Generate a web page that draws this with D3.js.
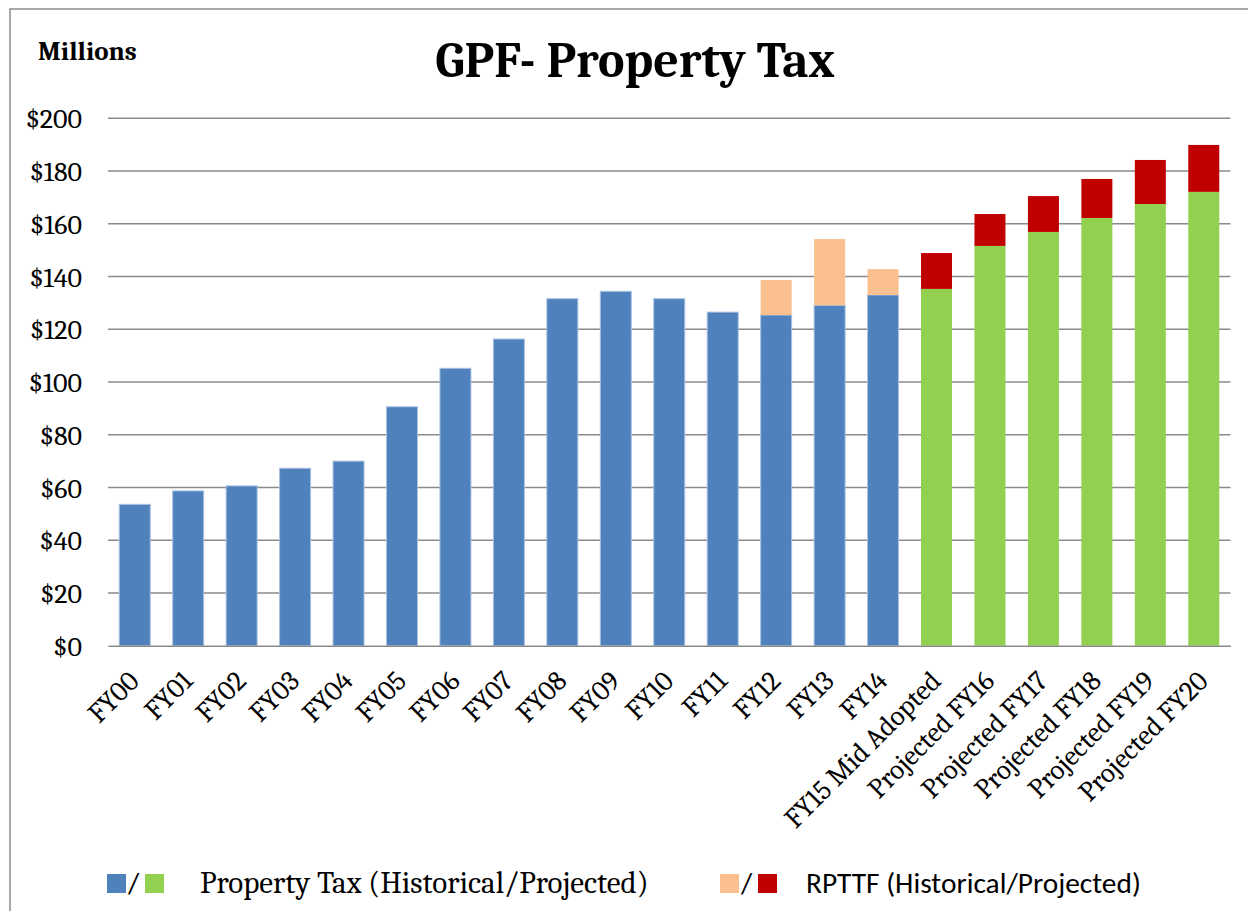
<!DOCTYPE html>
<html>
<head>
<meta charset="utf-8">
<script src="https://cdn.jsdelivr.net/npm/d3@7"></script>
<style>
  html, body { margin: 0; padding: 0; background: #fff; }
</style>
</head>
<body>
<div id="chart"></div>
<script>
// chart data (millions of dollars)
const categories = ["FY00", "FY01", "FY02", "FY03", "FY04", "FY05", "FY06", "FY07", "FY08", "FY09",
  "FY10", "FY11", "FY12", "FY13", "FY14", "FY15 Mid Adopted", "Projected FY16", "Projected FY17",
  "Projected FY18", "Projected FY19", "Projected FY20"];
const propertyTax = [53.6, 58.7, 60.6, 67.3, 70.0, 90.6, 105.2, 116.3, 131.6, 134.4,
  131.6, 126.5, 125.4, 129.1, 133.0, 135.3, 151.6, 156.9, 162.2, 167.5, 172.1];
const rpttf = [0, 0, 0, 0, 0, 0, 0, 0, 0, 0,
  0, 0, 13.3, 25.1, 9.8, 13.6, 12.1, 13.6, 14.8, 16.7, 17.8];
const projectedFrom = "FY15 Mid Adopted";
const yTicks = [0, 20, 40, 60, 80, 100, 120, 140, 160, 180, 200];

const W = 1248, H = 911;
const colors = {
  tax: { hist: "#4f81bd", proj: "#92d050" },
  rpttf: { hist: "#fac090", proj: "#c00000" }
};
const serif = "Cambria, Caladea, 'Liberation Serif', serif";
const sans = "Calibri, Carlito, Lato, 'Liberation Sans', sans-serif";

const svg = d3.select("#chart").append("svg")
  .attr("width", W)
  .attr("height", H)
  .style("display", "block");

// outer frame (left + top edges visible)
svg.append("path")
  .attr("d", `M10,${H} L10,9 L${W},9`)
  .attr("fill", "none")
  .attr("stroke", "#8c8c8c")
  .attr("stroke-width", 1.5);

const plot = { left: 108, right: 1230.5, top: 118.3, bottom: 645.7 };

const x = d3.scaleBand()
  .domain(categories)
  .range([plot.left, plot.right])
  .paddingInner(0.42)
  .paddingOuter(0.21);

const y = d3.scaleLinear()
  .domain([0, 200])
  .range([plot.bottom, plot.top]);

// gridlines
svg.append("g")
  .selectAll("line")
  .data(yTicks.filter(d => d > 0))
  .enter()
  .append("line")
  .attr("x1", plot.left)
  .attr("x2", plot.right)
  .attr("y1", d => y(d))
  .attr("y2", d => y(d))
  .attr("stroke", "#8a8a8a")
  .attr("stroke-width", 1.5);

// y labels
svg.append("g")
  .selectAll("text")
  .data(yTicks)
  .enter()
  .append("text")
  .attr("x", 82)
  .attr("y", d => y(d))
  .attr("dy", "0.36em")
  .attr("text-anchor", "end")
  .attr("font-family", serif)
  .attr("font-size", 28)
  .attr("fill", "#000")
  .text(d => "$" + d);

// stacked bars
const rows = categories.map((c, i) => ({ cat: c, tax: propertyTax[i], rpttf: rpttf[i] }));
const series = d3.stack().keys(["tax", "rpttf"])(rows);
const firstProj = categories.indexOf(projectedFrom);

svg.append("g")
  .selectAll("g")
  .data(series)
  .enter()
  .append("g")
  .each(function (s) {
    d3.select(this)
      .selectAll("rect")
      .data(s.filter(d => d[1] - d[0] > 0))
      .enter()
      .append("rect")
      .attr("x", d => x(d.data.cat))
      .attr("width", x.bandwidth())
      .attr("y", d => y(d[1]))
      .attr("height", d => y(d[0]) - y(d[1]))
      .attr("fill", d => {
        const proj = categories.indexOf(d.data.cat) >= firstProj;
        return proj ? colors[s.key].proj : colors[s.key].hist;
      })
      .attr("stroke", d => (s.key === "tax" && categories.indexOf(d.data.cat) < firstProj) ? "#a9c1e0" : "none")
      .attr("stroke-width", 1);
  });

// x axis
const xAxis = svg.append("g")
  .attr("transform", `translate(0,${plot.bottom})`)
  .call(d3.axisBottom(x).tickSize(0).tickPadding(0));

xAxis.select(".domain")
  .attr("stroke", "#8a8a8a")
  .attr("stroke-width", 1.5);

xAxis.selectAll("text")
  .attr("font-family", serif)
  .attr("font-size", 28)
  .attr("fill", "#000")
  .attr("text-anchor", "end")
  .attr("x", 0)
  .attr("y", 0)
  .attr("dy", 0)
  .attr("transform", "translate(6,37) rotate(-45)");

// title
svg.append("text")
  .attr("x", 635)
  .attr("y", 77)
  .attr("text-anchor", "middle")
  .attr("font-family", serif)
  .attr("font-weight", "bold")
  .attr("font-size", 50)
  .text("GPF- Property Tax");

svg.append("text")
  .attr("x", 38)
  .attr("y", 60)
  .attr("font-family", serif)
  .attr("font-weight", "bold")
  .attr("font-size", 27)
  .text("Millions");

// legend (first label is set in the serif face, second in the sans face)
const legendItems = [
  { key: "tax", label: "Property Tax (Historical/Projected)", x: 107, textX: 200, font: serif, size: 31 },
  { key: "rpttf", label: "RPTTF (Historical/Projected)", x: 720, textX: 806, font: sans, size: 29.4 }
];
const legend = svg.append("g").selectAll("g")
  .data(legendItems)
  .enter()
  .append("g");

legend.append("rect")
  .attr("x", d => d.x)
  .attr("y", 874)
  .attr("width", 19)
  .attr("height", 19)
  .attr("fill", d => colors[d.key].hist);

legend.append("text")
  .attr("x", d => d.x + 21)
  .attr("y", 893)
  .attr("font-family", sans)
  .attr("font-size", 29)
  .text("/");

legend.append("rect")
  .attr("x", d => d.x + 38)
  .attr("y", 874)
  .attr("width", 19)
  .attr("height", 19)
  .attr("fill", d => colors[d.key].proj);

legend.append("text")
  .attr("x", d => d.textX)
  .attr("y", 893)
  .attr("font-family", d => d.font)
  .attr("font-size", d => d.size)
  .text(d => d.label);
</script>
</body>
</html>
